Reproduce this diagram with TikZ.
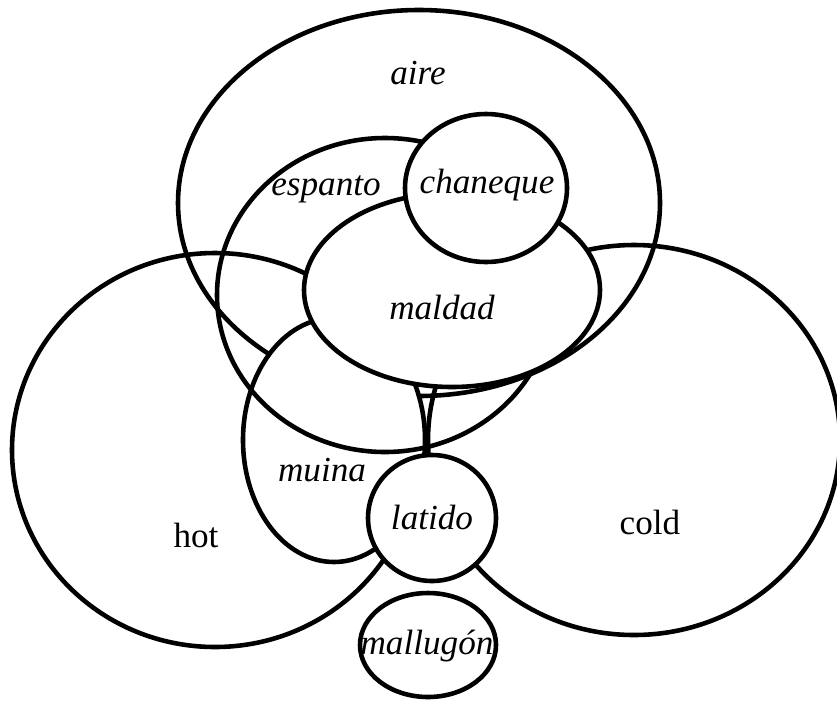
\documentclass[tikz,border=0pt]{standalone}
\usepackage{fontspec}
\setmainfont{Liberation Serif}
\usepackage{tikz}
\usetikzlibrary{shapes.geometric}
\tikzstyle{set} = [draw, line width=1.3pt]
\tikzstyle{cover} = [set, fill=white]
\tikzstyle{ill} = [font=\itshape, inner sep=1pt]
\tikzstyle{temp} = [font=\upshape, inner sep=1pt]

\begin{document}
\begin{tikzpicture}[x=0.01cm, y=-0.01cm]
    \useasboundingbox (0,0) rectangle (837,700);
    % Draw sets
    \path [set] (215,450) ellipse [x radius=203, y radius=197];
    \path [set] (634,440) ellipse [x radius=206, y radius=195];
    \path [set] (419,203) ellipse [x radius=241, y radius=193];
    \path [cover] (334,440) ellipse [x radius=91, y radius=122];
    \path [set] (385,295) ellipse [x radius=168, y radius=157];
    \path [cover] (452,290) ellipse [x radius=148, y radius=97];
    \path [cover] (486,188) ellipse [x radius=81, y radius=74];
    \path [cover] (432,518) ellipse [x radius=64, y radius=63];
    \path [set] (428,645) ellipse [x radius=68, y radius=52];
    % Place labels
    \node [ill] (aire) at (418,73) {aire};
    \node [ill] (espanto) at (326,189) {espanto};
    \node [ill] (chaneque) at (487,185) {chaneque};
    \node [ill] (maldad) at (442,307) {maldad};
    \node [ill] (muina) at (322,470) {muina};
    \node [ill] (latido) at (432,517) {latido};
    \node [ill] (mallugon) at (427,646) {mallugón};
    \node [temp] (hot) at (196,535) {hot};
    \node [temp] (cold) at (650,522) {cold};
\end{tikzpicture}
\end{document}
